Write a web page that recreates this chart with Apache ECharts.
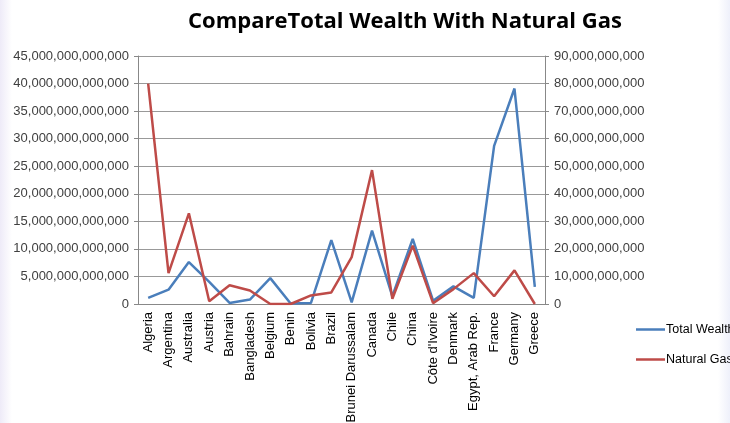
<!DOCTYPE html>
<html><head><meta charset="utf-8">
<script src="https://cdn.jsdelivr.net/npm/echarts@6/dist/echarts.min.js"></script>
<style>
html,body{margin:0;padding:0;}
body{width:730px;height:423px;background:linear-gradient(90deg,#eeebf8 0px,#ffffff 12px,#ffffff 718px,#eef0fa 730px);}
#c{width:730px;height:423px;}
</style></head>
<body><div id="c"></div>
<script>
const categories = ["Algeria","Argentina","Australia","Austria","Bahrain","Bangladesh","Belgium","Benin","Bolivia","Brazil","Brunei Darussalam","Canada","Chile","China","Côte d'Ivoire","Denmark","Egypt, Arab Rep.","France","Germany","Greece"];
// Total Wealth (left axis)
const totalWealth = [1.1e12,2.6e12,7.6e12,4.0e12,0.2e12,0.8e12,4.7e12,0.1e12,0.2e12,11.6e12,0.3e12,13.3e12,1.4e12,11.8e12,0.6e12,3.2e12,1.1e12,28.7e12,39.1e12,3.1e12];
// Natural Gas (right axis)
const naturalGas = [80e9,11.2e9,32.9e9,1.0e9,6.8e9,4.9e9,0,0,3.1e9,4.2e9,17.0e9,48.6e9,1.9e9,21.2e9,0.3e9,5.4e9,11.2e9,2.8e9,12.2e9,0];
const leftMax = 45e12, leftStep = 5e12;
const rightMax = 90e9, rightStep = 10e9;

function fmt(v){ return Math.round(v).toLocaleString('en-US'); }

const chart = echarts.init(document.getElementById('c'), null, {renderer:'canvas'});
const axisFont = {fontFamily:'Liberation Sans', fontSize:13, color:'#404040'};
chart.setOption({
  backgroundColor:'transparent',
  animation:false,
  title:{text:'CompareTotal Wealth With Natural Gas', left:400, textAlign:'center', top:6,
    textStyle:{fontFamily:'Open Sans', fontWeight:'bold', fontSize:22, color:'#000'}},
  legend:{orient:'vertical', left:631, top:318, itemGap:17, icon:'rect', itemWidth:29, itemHeight:2.5,
    textStyle:{fontFamily:'Liberation Sans', fontSize:12.5, color:'#000', padding:[0,0,0,-4]},
    data:['Total Wealth','Natural Gas']},
  grid:{left:138, right:185, top:56, bottom:119, containLabel:false, outerBoundsMode:'none'},
  xAxis:{type:'category', data:categories, boundaryGap:true,
    axisLine:{lineStyle:{color:'#888', width:1}}, axisTick:{show:false},
    axisLabel:{rotate:90, interval:0, margin:8, fontFamily:'Liberation Sans', fontSize:13, color:'#000'}},
  yAxis:[
    {type:'value', min:0, max:leftMax, interval:leftStep, position:'left',
     axisLine:{show:true, lineStyle:{color:'#888'}}, axisTick:{show:true, length:4, lineStyle:{color:'#888'}},
     splitLine:{lineStyle:{color:'#999', width:1}},
     axisLabel:Object.assign({formatter:fmt, margin:9}, axisFont)},
    {type:'value', min:0, max:rightMax, interval:rightStep, position:'right',
     axisLine:{show:true, lineStyle:{color:'#888'}}, axisTick:{show:true, length:4, lineStyle:{color:'#888'}},
     splitLine:{show:false},
     axisLabel:Object.assign({formatter:fmt, margin:9}, axisFont)}
  ],
  series:[
    {name:'Total Wealth', type:'line', yAxisIndex:0, data:totalWealth, showSymbol:false,
     lineStyle:{color:'#4a7ebb', width:2.5}, itemStyle:{color:'#4a7ebb'}},
    {name:'Natural Gas', type:'line', yAxisIndex:1, data:naturalGas, showSymbol:false,
     lineStyle:{color:'#be4b48', width:2.5}, itemStyle:{color:'#be4b48'}}
  ]
});
</script></body></html>
